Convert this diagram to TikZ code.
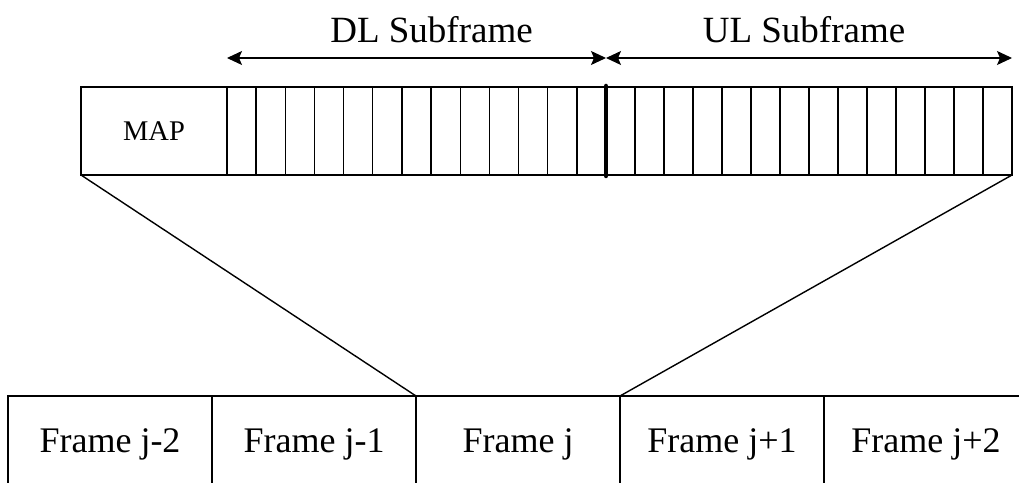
\documentclass[tikz,border=0pt]{standalone}
\usepackage{fontspec}
\setmainfont{Liberation Serif}
\usetikzlibrary{arrows.meta}

\begin{document}
\begin{tikzpicture}[x=1pt, y=1pt, node distance=204pt, line width=1.4pt,
    cell/.style={rectangle, draw, inner sep=0pt, outer sep=0pt, minimum height=88pt},
    framebox/.style={rectangle, draw, inner sep=0pt, outer sep=0pt, minimum width=204pt, minimum height=89pt, text height=24pt, text depth=1pt, font=\fontsize{36}{40}\selectfont},
    spanarrow/.style={{Stealth[length=15pt, width=14pt, inset=3pt]}-{Stealth[length=15pt, width=14pt, inset=3pt]}, line width=1.2pt},
    sublabel/.style={anchor=base, yshift=15pt, font=\fontsize{37}{40}\selectfont},
    divider/.style={line width=4.5pt, line cap=round}]
    \useasboundingbox (0,0) rectangle (1019,482);
    \node[cell, minimum width=146pt, font=\fontsize{28.5}{30}\selectfont] (map) at (154,351) {MAP};
    \node[cell, minimum width=379pt, anchor=west] (dl) at (map.east) {};
    \node[cell, minimum width=406pt, anchor=west] (ul) at (dl.east) {};
    \foreach \i in {1,...,12}
        \draw ([xshift=\i*29.15pt]dl.south west) -- ([xshift=\i*29.15pt]dl.north west);
    \foreach \i in {1,...,13}
        \draw ([xshift=\i*29pt]ul.south west) -- ([xshift=\i*29pt]ul.north west);
    % DL/UL boundary
    \draw[divider] ([yshift=1pt]dl.north east) -- ([yshift=-1pt]dl.south east);
    \draw[spanarrow] ([yshift=29pt]dl.north west) -- node[sublabel, xshift=15pt] (dltext) {DL Subframe} ([yshift=29pt]dl.north east);
    \draw[spanarrow] ([yshift=29pt]ul.north west) -- node[sublabel, xshift=-5pt] (ultext) {UL Subframe} ([yshift=29pt]ul.north east);
    \node[framebox] (f1) at (110,41.5) {Frame j-2};
    \node[framebox, right of=f1] (f2) {Frame j-1};
    \node[framebox, right of=f2] (f3) {Frame j};
    \node[framebox, right of=f3] (f4) {Frame j+1};
    \node[framebox, right of=f4] (f5) {Frame j+2};
    \draw (map.south west) -- (f3.north west);
    \draw (ul.south east) -- (f3.north east);
\end{tikzpicture}
\end{document}
